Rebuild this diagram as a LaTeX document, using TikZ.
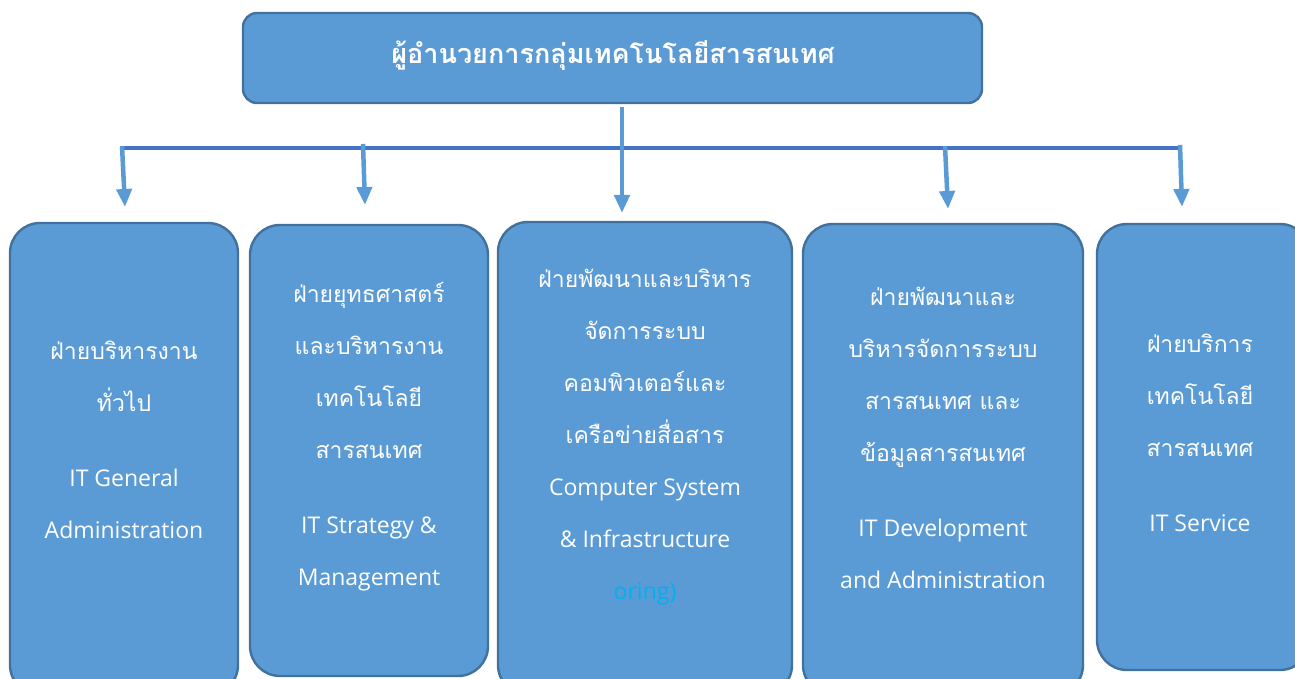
\documentclass[tikz,border=0pt]{standalone}
\usepackage{fontspec}
\setmainfont{Open Sans}
\newfontfamily\thai[Script=Thai]{Loma}
\usetikzlibrary{arrows.meta}
\definecolor{boxfill}{HTML}{5B9BD5}
\definecolor{boxline}{HTML}{41719C}
\definecolor{hline}{HTML}{4472C4}
\definecolor{cyantext}{HTML}{00B0F0}
\tikzset{
  unitbox/.style={draw=boxline, line width=2.4pt, fill=boxfill, rounded corners=30pt},
  topbox/.style={draw=boxline, line width=2.4pt, fill=boxfill, rounded corners=14pt},
  boxtext/.style={text=white, align=center, font=\fontsize{23}{52}\selectfont},
  arr/.style={draw=boxfill, line width=4.5pt, -{Triangle[length=18pt,width=15pt]}},
}
\begin{document}
\begin{tikzpicture}[x=1pt,y=-1pt]
\useasboundingbox (0,0) rectangle (1295,679);
% top box
\draw[topbox] (243,13) rectangle (982,103);
\node[text=white, font=\thai\bfseries\fontsize{27}{32}\selectfont] (title) at (613,56) {ผู้อำนวยการกลุ่มเทคโนโลยีสารสนเทศ};
% unit boxes
\draw[unitbox] (10,223) rectangle (238,695);
\draw[unitbox] (250,225) rectangle (488,676);
\draw[unitbox] (498,222) rectangle (792,695);
\draw[unitbox] (803,224) rectangle (1083,695);
\draw[unitbox] (1097,224) rectangle (1310,670);
% texts
\node[boxtext] (t1) at (124,440) {{\thai ฝ่ายบริหารงาน}\\{\thai ทั่วไป}\\[23pt]IT General\\Administration};
\node[boxtext] (t2) at (369,437) {{\thai ฝ่ายยุทธศาสตร์}\\{\thai และบริหารงาน}\\{\thai เทคโนโลยี}\\{\thai สารสนเทศ}\\[23pt]IT Strategy \&\\Management};
\node[boxtext] (t3) at (645,437) {{\thai ฝ่ายพัฒนาและบริหาร}\\{\thai จัดการระบบ}\\{\thai คอมพิวเตอร์และ}\\{\thai เครือข่ายสื่อสาร}\\Computer System\\\& Infrastructure\\\textcolor{cyantext}{oring)}};
\node[boxtext] (t4) at (943,438) {{\thai ฝ่ายพัฒนาและ}\\{\thai บริหารจัดการระบบ}\\{\thai สารสนเทศ และ}\\{\thai ข้อมูลสารสนเทศ}\\[23pt]IT Development\\and Administration};
\node[boxtext] (t5) at (1200,433) {{\thai ฝ่ายบริการ}\\{\thai เทคโนโลยี}\\{\thai สารสนเทศ}\\[23pt]IT Service};
% connectors
\coordinate (hl) at (122,148);
\coordinate (hr) at (1180,148);
\draw[draw=hline, line width=3.5pt] (hl) -- (hr);
\coordinate (m0) at (622,107);
\coordinate (m1) at (622,213);
\draw[arr] (m0) -- (m1);
\coordinate (a1) at (122,146); \coordinate (b1) at (125,207);
\coordinate (a2) at (363,144); \coordinate (b2) at (365,205);
\coordinate (a4) at (945,146); \coordinate (b4) at (948,209);
\coordinate (a5) at (1180,145); \coordinate (b5) at (1182,207);
\draw[arr] (a1) -- (b1);
\draw[arr] (a2) -- (b2);
\draw[arr] (a4) -- (b4);
\draw[arr] (a5) -- (b5);
\end{tikzpicture}
\end{document}
